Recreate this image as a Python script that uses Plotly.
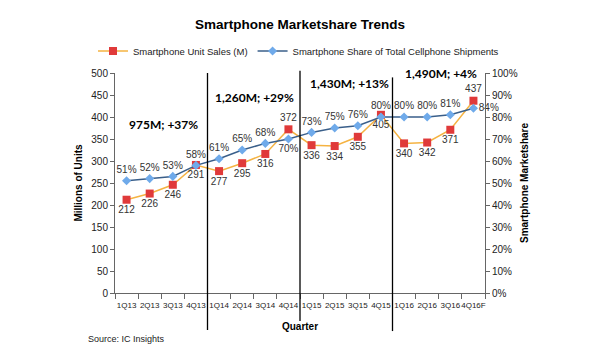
import plotly.graph_objects as go

quarters = ["1Q13", "2Q13", "3Q13", "4Q13", "1Q14", "2Q14", "3Q14", "4Q14",
            "1Q15", "2Q15", "3Q15", "4Q15", "1Q16", "2Q16", "3Q16", "4Q16F"]
unit_sales = [212, 226, 246, 291, 277, 295, 316, 372, 336, 334, 355, 405, 340, 342, 371, 437]
share_pct = [51, 52, 53, 58, 61, 65, 68, 70, 73, 75, 76, 80, 80, 80, 81, 84]
year_labels = ["975M; +37%", "1,260M; +29%", "1,430M; +13%", "1,490M; +4%"]

unit_pos = ["bottom center"] * len(unit_sales)
unit_pos[7] = "top center"
unit_pos[15] = "top center"
share_pos = ["top center"] * len(share_pct)
share_pos[7] = "bottom center"
share_pos[15] = "middle right"

fig = go.Figure()
fig.add_trace(go.Scatter(
    x=quarters, y=unit_sales, name="Smartphone Unit Sales (M)",
    mode="lines+markers+text", text=[str(v) for v in unit_sales],
    textposition=unit_pos, textfont=dict(size=10, color="#333333"),
    line=dict(color="#F5B342", width=1.5),
    marker=dict(symbol="square", size=8, color="#E03A3A"),
    yaxis="y", cliponaxis=False))
fig.add_trace(go.Scatter(
    x=quarters, y=share_pct, name="Smartphone Share of Total Cellphone Shipments",
    mode="lines+markers+text", text=[f"{v}%" for v in share_pct],
    textposition=share_pos, textfont=dict(size=10, color="#333333"),
    line=dict(color="#3A5F8A", width=1.5),
    marker=dict(symbol="diamond", size=7, color="#6FAAEA"),
    yaxis="y2", cliponaxis=False))

# year separators at category boundaries
bounds = [i - 0.5 for i in range(1, len(quarters)) if quarters[i][2:4] != quarters[i - 1][2:4]]
sep_y = [(-0.168, 1.0), (-0.127, 1.01), (-0.173, 0.98)]
for b, (y0, y1) in zip(bounds, sep_y):
    fig.add_shape(type="line", xref="x", yref="paper", x0=b, x1=b, y0=y0, y1=y1,
                  line=dict(color="black", width=1.3))

ann_pos = [(1.58, 382), (5.55, 445), (9.66, 477), (13.6, 500)]
for t, (ax, ay) in zip(year_labels, ann_pos):
    fig.add_annotation(x=ax, y=ay, xref="x", yref="y", text=f"<b>{t}</b>",
                       showarrow=False, font=dict(family="Lato", size=12, color="black"))

fig.add_annotation(x=(86 - 115) / 370, y=(293 - 339) / 220, xref="paper", yref="paper",
                   text="Source: IC Insights", showarrow=False, xanchor="left", yanchor="middle",
                   font=dict(size=9, color="#222"))

fig.update_layout(
    width=600, height=350,
    margin=dict(l=115, r=115, t=73, b=57, autoexpand=False),
    paper_bgcolor="white", plot_bgcolor="white",
    font=dict(family="Liberation Sans, Arial", color="#222"),
    title=dict(text="<b>Smartphone Marketshare Trends</b>", x=0.5, xanchor="center",
               y=1 - 24 / 350, yanchor="middle", font=dict(size=13.5, color="black")),
    showlegend=True,
    legend=dict(orientation="h", x=(93 - 115) / 370, xanchor="left",
                y=(293 - 51) / 220, yanchor="middle",
                font=dict(size=9.5, color="#222"), itemwidth=30, tracegroupgap=0,
                bgcolor="rgba(0,0,0,0)"),
    xaxis=dict(type="category", range=[-0.5, 15.5], tickson="boundaries", tickangle=0,
               ticks="outside", ticklen=5, tickcolor="#666", showline=True,
               linecolor="#666", linewidth=1, showgrid=False, ticklabelstandoff=4,
               tickfont=dict(size=8, color="#222"),
               title=dict(text="<b>Quarter</b>", font=dict(size=10, color="black"), standoff=14)),
    yaxis=dict(range=[0, 500], dtick=50, ticks="outside", ticklen=4, tickcolor="#666",
               showline=True, linecolor="#666", linewidth=1, showgrid=False, zeroline=False,
               tickfont=dict(size=10, color="#222"),
               title=dict(text="<b>Millions of Units</b>", font=dict(size=10, color="black"), standoff=6)),
    yaxis2=dict(range=[0, 100], dtick=10, ticksuffix="%", overlaying="y", side="right",
                ticks="outside", ticklen=4, tickcolor="#666", showline=True,
                linecolor="#666", linewidth=1, showgrid=False, zeroline=False,
                tickfont=dict(size=10, color="#222"),
                title=dict(text="<b>Smartphone Marketshare</b>", font=dict(size=10, color="black"), standoff=4)),
)

fig.write_html("out.html")
